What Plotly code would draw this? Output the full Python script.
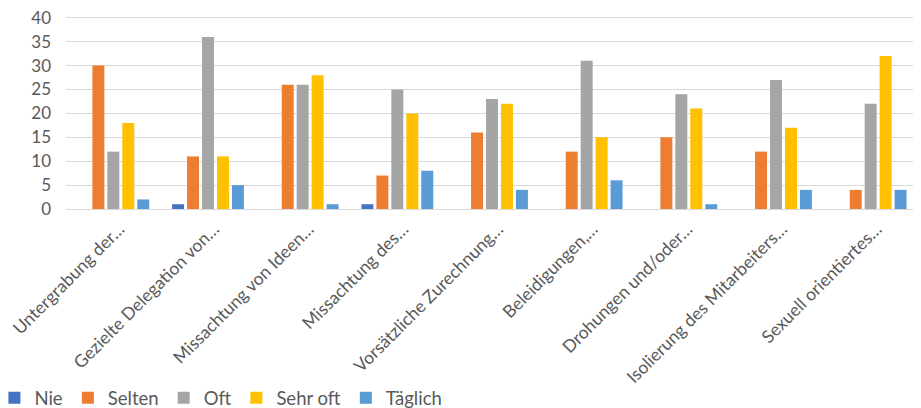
import plotly.graph_objects as go

categories = [
    "Untergrabung der…",
    "Gezielte Delegation von…",
    "Missachtung von Ideen…",
    "Missachtung des…",
    "Vorsätzliche Zurechnung…",
    "Beleidigungen,…",
    "Drohungen und/oder…",
    "Isolierung des Mitarbeiters…",
    "Sexuell orientiertes…",
]
nie = [0, 1, 0, 1, 0, 0, 0, 0, 0]
selten = [30, 11, 26, 7, 16, 12, 15, 12, 4]
oft = [12, 36, 26, 25, 23, 31, 24, 27, 22]
sehr_oft = [18, 11, 28, 20, 22, 15, 21, 17, 32]
taeglich = [2, 5, 1, 8, 4, 6, 1, 4, 4]
y_ticks = [0, 5, 10, 15, 20, 25, 30, 35, 40]

series = [
    ("Nie", nie, "#4472C4"),
    ("Selten", selten, "#ED7D31"),
    ("Oft", oft, "#A5A5A5"),
    ("Sehr oft", sehr_oft, "#FFC000"),
    ("Täglich", taeglich, "#5B9BD5"),
]

fig = go.Figure()
for name, vals, color in series:
    fig.add_trace(go.Bar(name=name, x=categories, y=vals, marker_color=color,
                         marker_line_width=0))

font_fam = "Lato, Open Sans, sans-serif"
fig.update_layout(
    width=913, height=400,
    margin=dict(l=58, r=3, t=5.2, b=199, autoexpand=False),
    paper_bgcolor="white", plot_bgcolor="white",
    barmode="group", bargap=0.21, bargroupgap=0.2,
    font=dict(family=font_fam, color="#595959", size=18),
    legend=dict(orientation="h", x=-0.084, xanchor="left", y=-0.965, yanchor="middle",
                font=dict(size=18.5, color="#595959"), itemwidth=30, traceorder="normal"),
    showlegend=True,
)
fig.update_xaxes(tickangle=-45, tickfont=dict(size=17.5, color="#595959"), automargin=False,
                 showline=True, linecolor="#D9D9D9", linewidth=1, ticks="",
                 ticklabelshift=6, ticklabelstandoff=2)
fig.update_yaxes(range=[0, 41], tickvals=y_ticks,
                 showgrid=True, gridcolor="#D9D9D9", gridwidth=1,
                 zeroline=False, tickfont=dict(size=17, color="#595959"), ticks="",
                 automargin=False, ticklabelstandoff=14, ticklabeloverflow="allow")
fig.write_html("out.html")
